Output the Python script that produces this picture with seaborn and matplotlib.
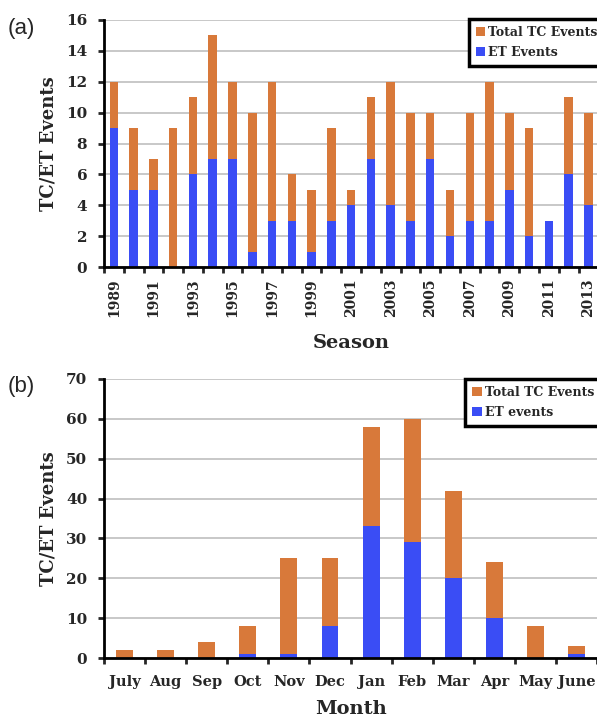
import numpy as np
import pandas as pd
import matplotlib.pyplot as plt
import seaborn as sns

# data
seasons = [str(y) for y in range(1989, 2014)]
total_tc = [12, 9, 7, 9, 11, 15, 12, 10, 12, 6, 5, 9, 5, 11, 12, 10, 10, 5, 10, 12, 10, 9, 3, 11, 10]
et_season = [9, 5, 5, 0, 6, 7, 7, 1, 3, 3, 1, 3, 4, 7, 4, 3, 7, 2, 3, 3, 5, 2, 3, 6, 4]

months = ["July", "Aug", "Sep", "Oct", "Nov", "Dec", "Jan", "Feb", "Mar", "Apr", "May", "June"]
total_month = [2, 2, 4, 8, 25, 25, 58, 60, 42, 24, 8, 3]
et_month = [0, 0, 0, 1, 1, 8, 33, 29, 20, 10, 0, 1]

orange = "#D8793A"
blue = "#3A4DF5"

sns.set_style("white")
plt.rcParams['font.family'] = ['DejaVu Serif']
plt.rcParams['font.weight'] = 'bold'

df_a = pd.DataFrame({"Season": seasons, "Total": total_tc, "ET": et_season})
df_b = pd.DataFrame({"Month": months, "Total": total_month, "ET": et_month})

fig = plt.figure(figsize=(5.97, 7.19), dpi=100)
ax1 = fig.add_axes([0.1742, 0.6286, 0.828, 0.3436])
ax2 = fig.add_axes([0.1742, 0.0848, 0.826, 0.3881])


def style_axis(ax, n, ymax, ystep):
    ax.set_xlim(-0.5, n - 0.5)
    ax.set_ylim(0, ymax)
    ax.set_yticks(np.arange(0, ymax + 1, ystep))
    ax.yaxis.grid(True, color="#C4C4C4", linewidth=1.3)
    ax.set_axisbelow(True)
    for s in ["top", "right"]:
        ax.spines[s].set_visible(False)
    for s in ["left", "bottom"]:
        ax.spines[s].set_linewidth(2.0)
        ax.spines[s].set_color("black")
    ax.tick_params(axis="y", which="major", direction="out", length=4, width=2,
                   left=True, labelsize=11, pad=8)
    # tick marks on category boundaries, labels at centers
    ax.set_xticks(np.arange(-0.5, n, 1.0))
    ax.set_xticklabels([])
    ax.tick_params(axis="x", which="major", direction="out", length=4, width=2, bottom=True)
    ax.tick_params(axis="x", which="minor", length=0, bottom=True)


def boxed_legend(ax, anchor):
    leg = ax.legend(loc="upper left", bbox_to_anchor=anchor, fontsize=9,
                    handlelength=0.75, handleheight=0.75, handletextpad=0.25,
                    borderpad=0.55, labelspacing=0.55, fancybox=False, framealpha=1)
    leg.get_frame().set_edgecolor("black")
    leg.get_frame().set_linewidth(2.5)


# (a) season
sns.barplot(data=df_a, x="Season", y="Total", color=orange, width=0.43,
            saturation=1, linewidth=0, label="Total TC Events", ax=ax1)
sns.barplot(data=df_a, x="Season", y="ET", color=blue, width=0.43,
            saturation=1, linewidth=0, label="ET Events", ax=ax1)
style_axis(ax1, len(seasons), 16, 2)
ax1.set_xticks(np.arange(0, len(seasons), 2), minor=True)
ax1.set_xticklabels(seasons[::2], minor=True, rotation=90, fontsize=10)
ax1.tick_params(axis="x", which="minor", pad=8)
ax1.set_xlabel("Season", fontsize=14, fontweight="bold", labelpad=12)
ax1.set_ylabel("TC/ET Events", fontsize=13, fontweight="bold", labelpad=6)
boxed_legend(ax1, (0.726, 1.028))

# (b) month
sns.barplot(data=df_b, x="Month", y="Total", color=orange, width=0.41,
            saturation=1, linewidth=0, label="Total TC Events", ax=ax2)
sns.barplot(data=df_b, x="Month", y="ET", color=blue, width=0.41,
            saturation=1, linewidth=0, label="ET events", ax=ax2)
style_axis(ax2, len(months), 70, 10)
ax2.set_xticks(np.arange(0, len(months)), minor=True)
ax2.set_xticklabels(months, minor=True, fontsize=10.5)
ax2.tick_params(axis="x", which="minor", pad=12)
ax2.set_xlabel("Month", fontsize=14, fontweight="bold", labelpad=8)
ax2.set_ylabel("TC/ET Events", fontsize=13, fontweight="bold", labelpad=6)
boxed_legend(ax2, (0.72, 1.022))

fig.text(0.013, 0.961, "(a)", fontsize=16, fontweight="normal", family="Liberation Sans", va="center")
fig.text(0.013, 0.463, "(b)", fontsize=16, fontweight="normal", family="Liberation Sans", va="center")

fig.savefig("out.png", dpi=100)
